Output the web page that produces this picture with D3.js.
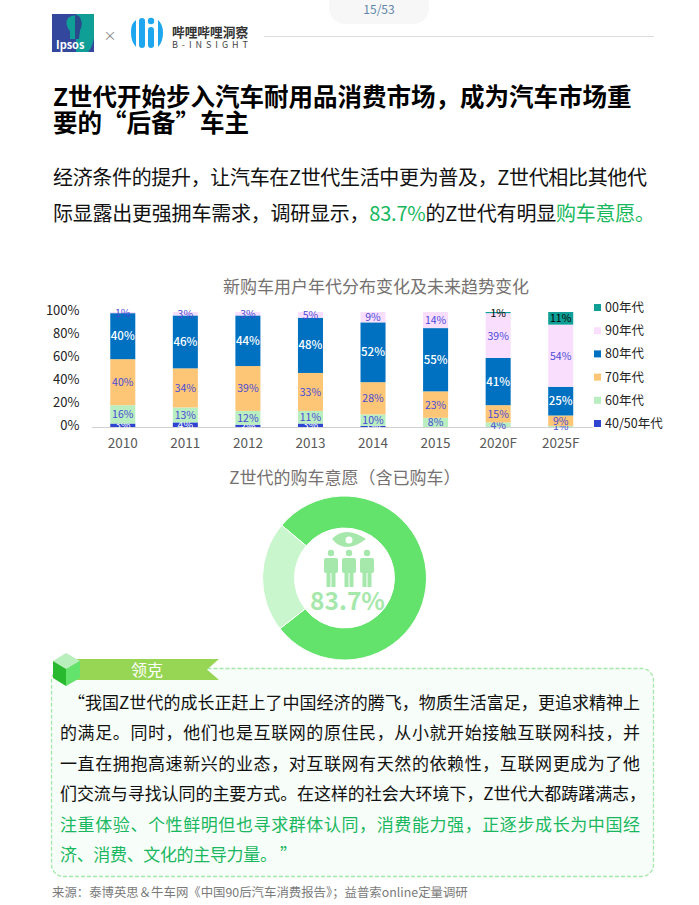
<!DOCTYPE html>
<html>
<head>
<meta charset="utf-8">
<script src="https://cdn.jsdelivr.net/npm/d3@7"></script>
<style>
  html, body { margin: 0; padding: 0; background: #fff; }
  svg { display: block; }
  text { font-family: "Noto Sans CJK SC", "Noto Sans", sans-serif; }
  .domain { stroke: #d0d0d0; }
</style>
</head>
<body>
<div id="page"></div>
<script>
const years = ["2010", "2011", "2012", "2013", "2014", "2015", "2020F", "2025F"];
const seriesNames = ["40/50年代", "60年代", "70年代", "80年代", "90年代", "00年代"];
const seriesColors = ["#2f45d0", "#b9eec0", "#fcc676", "#0070c0", "#f9dffd", "#0f9f96"];
const labelColors = ["#ffffff", "#4a4ad6", "#4a4ad6", "#ffffff", "#4a4ad6", "#000000"];

const gen4050 = [3, 4, 2, 3, 1, 0, 0, 0];
const gen60 = [16, 13, 12, 11, 10, 8, 4, 1];
const gen70 = [40, 34, 39, 33, 28, 23, 15, 9];
const gen80 = [40, 46, 44, 48, 52, 55, 41, 25];
const gen90 = [1, 3, 3, 5, 9, 14, 39, 54];
const gen00 = [0, 0, 0, 0, 0, 0, 1, 11];

const yTicks = [0, 20, 40, 60, 80, 100];
const donutValues = [78.3, 21.7];
const donutColors = ["#63e26c", "#c9f6cc"];

const titleLines = ["Z世代开始步入汽车耐用品消费市场，成为汽车市场重", "要的“后备”车主"];
// width is where the justified line ends in the reference
const quoteLines = [
  { text: "“我国Z世代的成长正赶上了中国经济的腾飞，物质生活富足，更追求精神上", color: "#111", x: 68, width: 572 },
  { text: "的满足。同时，他们也是互联网的原住民，从小就开始接触互联网科技，并", color: "#111", x: 60, width: 580 },
  { text: "一直在拥抱高速新兴的业态，对互联网有天然的依赖性，互联网更成为了他", color: "#111", x: 60, width: 580 },
  { text: "们交流与寻找认同的主要方式。在这样的社会大环境下，Z世代大都踌躇满志，", color: "#111", x: 60, width: 586 },
  { text: "注重体验、个性鲜明但也寻求群体认同，消费能力强，正逐步成长为中国经", color: "#19b860", x: 60, width: 580 },
  { text: "济、消费、文化的主导力量。 ”", color: "#19b860", x: 60, width: 237 }
];

const svg = d3.select("#page").append("svg").attr("width", 699).attr("height", 905);

// ---- page header ----
svg.append("rect").attr("x", 329).attr("y", -12).attr("width", 100).attr("height", 36)
  .attr("rx", 16).attr("fill", "#f7f7f7");
svg.append("text").attr("x", 379).attr("y", 14).attr("text-anchor", "middle")
  .attr("font-size", 12).attr("fill", "#5f86a8").text("15/53");
svg.append("line").attr("x1", 264).attr("x2", 654).attr("y1", 36.5).attr("y2", 36.5)
  .attr("stroke", "#dcdcdc");

// Ipsos logo
svg.append("rect").attr("x", 52).attr("y", 14).attr("width", 42).attr("height", 38).attr("fill", "#33489c");
svg.append("path").attr("d", "M76 14H94V38Q92 48 88 52H76Z").attr("fill", "#0f9f96");
svg.append("path").attr("d", "M68 18Q74 13 80 18Q84 24 80 30L79 39H70V31Q64 24 68 18Z").attr("fill", "#0f9f96");
svg.append("path").attr("d", "M75 15Q80 15 81 20Q83 25 80 30L79 39H75Z").attr("fill", "#2b4a8c");
svg.append("text").attr("x", 56).attr("y", 49).attr("font-size", 11).attr("font-weight", 700)
  .attr("fill", "#fff").text("Ipsos");
svg.append("text").attr("x", 110).attr("y", 40).attr("text-anchor", "middle")
  .attr("font-size", 13).attr("fill", "#888").text("×");

// bilibili insight logo
const logoBlue = "#1ea7ee";
svg.append("path").attr("d", "M131 32Q131 23 136 20V47Q131 42 131 32Z").attr("fill", logoBlue);
svg.append("rect").attr("x", 139).attr("y", 18).attr("width", 6).attr("height", 30).attr("rx", 3).attr("fill", logoBlue);
svg.append("rect").attr("x", 148).attr("y", 27).attr("width", 6).attr("height", 21).attr("rx", 3).attr("fill", logoBlue);
svg.append("circle").attr("cx", 151).attr("cy", 21).attr("r", 3.2).attr("fill", logoBlue);
svg.append("path").attr("d", "M158 20Q163 24 163 33Q163 42 158 47Z").attr("fill", logoBlue);
svg.append("text").attr("x", 172).attr("y", 37).attr("font-size", 12.7).attr("font-weight", 700)
  .attr("fill", "#333").text("哔哩哔哩洞察");
svg.append("text").attr("x", 172).attr("y", 48).attr("font-size", 9).attr("fill", "#444")
  .attr("textLength", 76).text("B-INSIGHT");

// ---- title and intro ----
titleLines.forEach((d, i) => {
  svg.append("text").attr("x", 53).attr("y", 106 + i * 26).attr("font-size", 24.5)
    .attr("font-weight", 700).attr("fill", "#000").text(d);
});

svg.append("text").attr("x", 53).attr("y", 185).attr("font-size", 20).attr("fill", "#111")
  .attr("textLength", 594)
  .text("经济条件的提升，让汽车在Z世代生活中更为普及，Z世代相比其他代");
const intro = svg.append("text").attr("x", 53).attr("y", 221).attr("font-size", 20).attr("fill", "#111")
  .attr("textLength", 602);
intro.append("tspan").text("际显露出更强拥车需求，调研显示，");
intro.append("tspan").attr("fill", "#19b860").text("83.7%");
intro.append("tspan").text("的Z世代有明显");
intro.append("tspan").attr("fill", "#19b860").text("购车意愿。");

// ---- stacked bars ----
const margin = { top: 312, left: 91.5, right: 107, bottom: 478 };
const plotW = 699 - margin.left - margin.right;
const plotH = 905 - margin.top - margin.bottom;

const rows = years.map((y, i) => ({
  year: y, s0: gen4050[i], s1: gen60[i], s2: gen70[i], s3: gen80[i], s4: gen90[i], s5: gen00[i]
}));
const stacked = d3.stack().keys(["s0", "s1", "s2", "s3", "s4", "s5"])(rows);

const x = d3.scaleBand().domain(years).range([0, plotW]).paddingInner(0.6).paddingOuter(0.3);
const y = d3.scaleLinear().domain([0, 100]).range([plotH, 0]);

svg.append("text").attr("x", 376).attr("y", 293).attr("text-anchor", "middle")
  .attr("font-size", 17).attr("fill", "#767171").text("新购车用户年代分布变化及未来趋势变化");

const plot = svg.append("g").attr("transform", "translate(" + margin.left + "," + margin.top + ")");

const yAxis = plot.append("g").call(d3.axisLeft(y).tickValues(yTicks).tickFormat((d) => d + "%").tickSize(0).tickPadding(12));
yAxis.select(".domain").remove();
yAxis.selectAll("text").attr("font-size", 13).attr("fill", "#222").attr("dy", "0.22em")
  .style("font-family", '"Noto Sans CJK SC", sans-serif');

const xAxis = plot.append("g").attr("transform", "translate(0," + plotH + ")")
  .call(d3.axisBottom(x).tickSize(0).tickPadding(11));
xAxis.select(".domain").attr("stroke", "#d0d0d0");
xAxis.selectAll("text").attr("font-size", 13.5).attr("fill", "#595959")
  .style("font-family", '"Noto Sans CJK SC", sans-serif');

const layers = plot.selectAll(".layer").data(stacked).join("g").attr("class", "layer");

layers.selectAll("rect")
  .data((d) => d.filter((e) => e[1] > e[0]))
  .join("rect")
  .attr("x", (d) => x(d.data.year))
  .attr("y", (d) => y(d[1]))
  .attr("width", x.bandwidth())
  .attr("height", (d) => y(d[0]) - y(d[1]))
  .attr("fill", function () { return seriesColors[d3.select(this.parentNode).datum().index]; });

layers.selectAll("text")
  .data((d) => d.filter((e) => e[1] > e[0]))
  .join("text")
  .attr("x", (d) => x(d.data.year) + x.bandwidth() / 2)
  .attr("y", (d) => (y(d[0]) + y(d[1])) / 2 + 4)
  .attr("text-anchor", "middle")
  .attr("font-size", function () { return d3.select(this.parentNode).datum().index === 3 ? 11.5 : 10.5; })
  .attr("font-weight", function () { return d3.select(this.parentNode).datum().index === 3 ? 500 : 400; })
  .attr("fill", function () { return labelColors[d3.select(this.parentNode).datum().index]; })
  .text((d) => (d[1] - d[0]) + "%");

// legend, top entry is the last series
const legendY = d3.scalePoint().domain(seriesNames.slice().reverse()).range([307.5, 423.5]);
const legend = svg.selectAll(".legend").data(seriesNames).join("g").attr("class", "legend")
  .attr("transform", (d) => "translate(594," + legendY(d) + ")");
legend.append("rect").attr("x", 0).attr("y", -3.5).attr("width", 7).attr("height", 7)
  .attr("fill", (d, i) => seriesColors[i]);
legend.append("text").attr("x", 11).attr("y", 4.5).attr("font-size", 12.5).attr("fill", "#222").text((d) => d);

// ---- donut ----
svg.append("text").attr("x", 345).attr("y", 484).attr("text-anchor", "middle")
  .attr("font-size", 17).attr("fill", "#767171").text("Z世代的购车意愿（含已购车）");

const donut = svg.append("g").attr("transform", "translate(344.5,578)");
const pie = d3.pie().sort(null).startAngle(-50 * Math.PI / 180).endAngle(310 * Math.PI / 180);
const arc = d3.arc().innerRadius(50).outerRadius(82);
donut.selectAll("path").data(pie(donutValues)).join("path")
  .attr("d", arc).attr("fill", (d, i) => donutColors[i]).attr("stroke", "#fff").attr("stroke-width", 1);

// people and eye icon in the middle
const iconColor = "#a6e8ac";
svg.append("path").attr("d", "M332 539Q345 525 366 539Q345 555 332 539Z").attr("fill", iconColor);
svg.append("circle").attr("cx", 349).attr("cy", 540).attr("r", 3.5).attr("fill", "#fff");
[331, 349, 367].forEach((cx) => {
  const person = svg.append("g").attr("transform", "translate(" + cx + ",0)").attr("fill", iconColor);
  person.append("circle").attr("cx", 0).attr("cy", 553).attr("r", 3.2);
  person.append("rect").attr("x", -7).attr("y", 558).attr("width", 14).attr("height", 15).attr("rx", 2);
  person.append("rect").attr("x", -4.5).attr("y", 570).attr("width", 4).attr("height", 17);
  person.append("rect").attr("x", 0.5).attr("y", 570).attr("width", 4).attr("height", 17);
});
svg.append("text").attr("x", 347.5).attr("y", 610).attr("text-anchor", "middle")
  .attr("font-size", 24.5).attr("font-weight", 700).attr("fill", "#a6e8ac").text("83.7%");

// ---- quote panel ----
svg.append("rect").attr("x", 51.5).attr("y", 668.5).attr("width", 602).attr("height", 208)
  .attr("rx", 12).attr("fill", "#f7fdf8").attr("stroke", "#a4e8aa").attr("stroke-width", 1.3)
  .attr("stroke-dasharray", "4 2");
svg.append("path").attr("d", "M70 659H219L207 669.5L219 680H70Z").attr("fill", "#97d655");
svg.append("path").attr("d", "M66 653L80 661L66 669L53 661Z").attr("fill", "#b9efbc");
svg.append("path").attr("d", "M53 661L66 669V686L53 678Z").attr("fill", "#28b92f");
svg.append("path").attr("d", "M66 669L80 661V678L66 686Z").attr("fill", "#63e26c");
svg.append("text").attr("x", 147).attr("y", 676).attr("text-anchor", "middle")
  .attr("font-size", 16).attr("fill", "#fff").text("领克");

quoteLines.forEach((d, i) => {
  svg.append("text").attr("x", d.x).attr("y", 709 + i * 30.4)
    .attr("font-size", 17).attr("fill", d.color).attr("textLength", d.width).text(d.text);
});

svg.append("text").attr("x", 52).attr("y", 897).attr("font-size", 12.4).attr("fill", "#7a7a7a")
  .text("来源：泰博英思＆牛车网《中国90后汽车消费报告》；益普索online定量调研");
</script>
</body>
</html>
